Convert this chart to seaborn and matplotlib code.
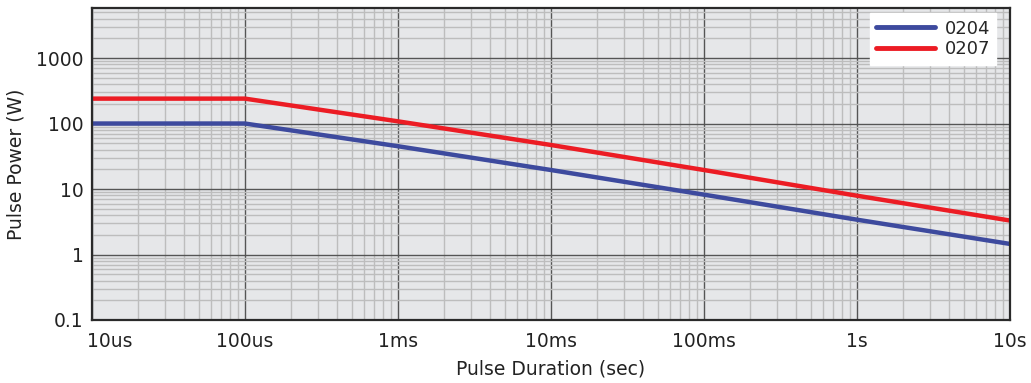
import numpy as np
import pandas as pd
import matplotlib
matplotlib.use("Agg")
import matplotlib.pyplot as plt
import seaborn as sns
from matplotlib.ticker import LogLocator, FixedLocator, NullFormatter
from matplotlib.transforms import ScaledTranslation

# Data
durations = [1e-5, 1e-4, 1e-3, 1e-2, 1e-1, 1, 10]
power_0204 = [100, 100, 45, 19.5, 8.2, 3.4, 1.45]
power_0207 = [240, 240, 108, 47, 19.5, 7.9, 3.3]
series_names = ["0204", "0207"]
x_ticks = [1e-5, 1e-4, 1e-3, 1e-2, 1e-1, 1, 10]
x_tick_labels = ["10us", "100us", "1ms", "10ms", "100ms", "1s", "10s"]
y_ticks = [0.1, 1, 10, 100, 1000]
y_tick_labels = ["0.1", "1", "10", "100", "1000"]

df = pd.DataFrame({
    "duration": durations * 2,
    "power": power_0204 + power_0207,
    "series": [series_names[0]] * len(durations) + [series_names[1]] * len(durations),
})

sns.set_theme(style="white")
plt.rcParams["font.family"] = ["DejaVu Sans"]

fig = plt.figure(figsize=(10.31, 3.83), dpi=100)
ax = fig.add_axes([0.0892, 0.1645, 0.8905, 0.8145])
ax.set_facecolor("#e6e7e9")

sns.lineplot(data=df, x="duration", y="power", hue="series",
             palette={"0204": "#3d4a9e", "0207": "#ec1c24"},
             linewidth=3.2, ax=ax, sort=False)

ax.set_xscale("log")
ax.set_yscale("log")
ax.set_xlim(1e-5, 10)
ax.set_ylim(0.1, 5800)

ax.xaxis.set_major_locator(FixedLocator(x_ticks))
ax.set_xticklabels(x_tick_labels)
ax.yaxis.set_major_locator(FixedLocator(y_ticks))
ax.set_yticklabels(y_tick_labels)
ax.xaxis.set_minor_locator(LogLocator(base=10, subs=np.arange(2, 10), numticks=20))
ax.yaxis.set_minor_locator(LogLocator(base=10, subs=np.arange(2, 10), numticks=20))
ax.xaxis.set_minor_formatter(NullFormatter())
ax.yaxis.set_minor_formatter(NullFormatter())

ax.grid(True, which="minor", color="#bdbdbd", linewidth=1.0)
ax.grid(True, which="major", color="#555555", linewidth=1.0)
ax.set_axisbelow(True)

for s in ax.spines.values():
    s.set_color("#2a2a2a")
    s.set_linewidth(1.6)

ax.tick_params(axis="both", which="both", length=0, labelsize=13.5, colors="#222222")
ax.tick_params(axis="x", pad=9)
ax.tick_params(axis="y", pad=6)
labs = ax.get_xticklabels()
labs[0].set_horizontalalignment("left")
labs[0].set_transform(labs[0].get_transform() + ScaledTranslation(-5 / 100, 0, fig.dpi_scale_trans))

ax.set_xlabel("Pulse Duration (sec)", fontsize=13.5, color="#222222", labelpad=6)
ax.set_ylabel("Pulse Power (W)", fontsize=13.5, color="#222222", labelpad=8)

leg = ax.legend(loc="upper right", fontsize=13, frameon=True, fancybox=False,
                handlelength=3.3, handletextpad=0.5, borderpad=0.35,
                labelspacing=0.15, borderaxespad=0,
                bbox_to_anchor=(0.985, 0.983))
leg.get_frame().set_edgecolor("white")
leg.get_frame().set_facecolor("white")
leg.get_frame().set_alpha(1)
for h in leg.get_lines():
    h.set_linewidth(3.5)

fig.savefig("out.png", dpi=100)
